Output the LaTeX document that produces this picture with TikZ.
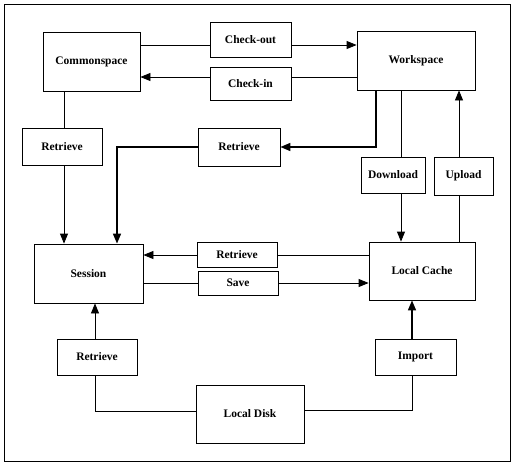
\documentclass[tikz,border=0pt]{standalone}
\usepackage{fontspec}
\setmainfont{Liberation Serif}
\usetikzlibrary{arrows.meta}

\begin{document}
\begin{tikzpicture}[x=1pt, y=-1pt, line width=0.8pt,
    box/.style={draw, rectangle, inner sep=0pt, font=\fontsize{11.5}{13}\selectfont\bfseries},
    arr/.style={-{Triangle[length=10pt, width=8pt]}},
    heavy/.style={line width=1.6pt}]
    \useasboundingbox (0,0) rectangle (516,464);
    \draw (4,4) rectangle (510,461);

    % Define nodes for the stores and the operations
    \node (commonspace) [box, minimum width=97pt, minimum height=59pt] at (91.5,61.5) {Commonspace};
    \node (checkout) [box, minimum width=81pt, minimum height=35pt] at (250.5,39.5) {Check-out};
    \node (checkin) [box, minimum width=81pt, minimum height=33pt] at (250.5,83.5) {Check-in};
    \node (workspace) [box, minimum width=118pt, minimum height=59pt] at (416,60.5) {Workspace};
    \node (retrieveA) [box, minimum width=80pt, minimum height=37pt] at (62,146.5) {Retrieve};
    \node (retrieveB) [box, minimum width=82pt, minimum height=38pt] at (239,147) {Retrieve};
    \node (download) [box, minimum width=64pt, minimum height=36pt] at (393,175) {Download};
    \node (upload) [box, minimum width=59pt, minimum height=38pt] at (463.5,176) {Upload};
    \node (session) [box, minimum width=109pt, minimum height=59pt] at (88.5,273.5) {Session};
    \node (retrieveC) [box, minimum width=80pt, minimum height=25pt] at (237,254.5) {Retrieve};
    \node (save) [box, minimum width=80pt, minimum height=24pt] at (238,283) {Save};
    \node (localcache) [box, minimum width=106pt, minimum height=58pt] at (422,271) {Local Cache};
    \node (retrieveD) [box, minimum width=80pt, minimum height=36pt] at (97,357) {Retrieve};
    \node (import) [box, minimum width=81pt, minimum height=36pt] at (415.5,357) {Import};
    \node (localdisk) [box, minimum width=108pt, minimum height=58pt] at (250,414) {Local Disk};

    % Draw the connections between them
    \draw (commonspace.east |- 0,45) -- (checkout.west |- 0,45);
    \draw[arr] (checkout.east |- 0,45) -- (workspace.west |- 0,45);
    \draw (workspace.west |- 0,77) -- (checkin.east |- 0,77);
    \draw[arr] (checkin.west |- 0,77) -- (commonspace.east |- 0,77);
    \draw (commonspace.south -| 64,0) -- (retrieveA.north -| 64,0);
    \draw[arr] (retrieveA.south -| 64,0) -- (session.north -| 64,0);
    \draw[arr, heavy] (workspace.south -| 376,0) |- (retrieveB.east);
    \draw[arr, heavy] (retrieveB.west) -| (session.north -| 117,0);
    \draw (workspace.south -| 401,0) -- (download.north -| 401,0);
    \draw[arr] (download.south -| 401,0) -- (localcache.north -| 401,0);
    \draw (localcache.north -| 459,0) -- (upload.south -| 459,0);
    \draw[arr] (upload.north -| 459,0) -- (workspace.south -| 459,0);
    \draw (localcache.west |- 0,255) -- (retrieveC.east |- 0,255);
    \draw[arr] (retrieveC.west |- 0,255) -- (session.east |- 0,255);
    \draw (session.east |- 0,283) -- (save.west |- 0,283);
    \draw[arr] (save.east |- 0,283) -- (localcache.west |- 0,283);
    \draw (localdisk.west |- 0,411) -| (retrieveD.south -| 95,0);
    \draw[arr] (retrieveD.north -| 95,0) -- (session.south -| 95,0);
    \draw (localdisk.east |- 0,410) -| (import.south -| 412,0);
    \draw[arr, heavy] (import.north -| 412,0) -- (localcache.south -| 412,0);
\end{tikzpicture}
\end{document}
